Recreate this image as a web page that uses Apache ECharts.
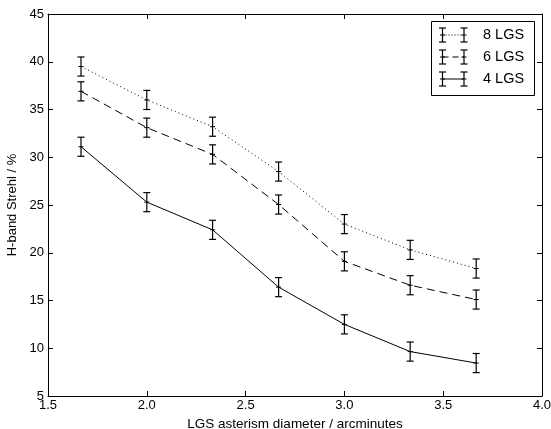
<!DOCTYPE html>
<html><head><meta charset="utf-8">
<script src="https://cdn.jsdelivr.net/npm/echarts@6/dist/echarts.min.js"></script>
<style>html,body{margin:0;padding:0;background:#fff}#c{width:551px;height:429px}</style>
</head><body><div id="c"></div>
<script>
const diameters = [1.667, 2.0, 2.333, 2.667, 3.0, 3.333, 3.667];
const strehl8 = [39.5, 36.0, 33.2, 28.5, 23.0, 20.3, 18.35];
const strehl6 = [36.9, 33.1, 30.3, 25.05, 19.1, 16.6, 15.1];
const strehl4 = [31.1, 25.3, 22.4, 16.4, 12.5, 9.65, 8.45];
const errors8 = [1.0, 1.0, 1.0, 1.0, 1.0, 1.0, 1.0];
const errors6 = [1.0, 1.0, 1.0, 1.0, 1.0, 1.0, 1.0];
const errors4 = [1.0, 1.0, 1.0, 1.0, 1.0, 1.0, 1.0];
const seriesNames = ['8 LGS', '6 LGS', '4 LGS'];
const xTicks = ['1.5','2.0','2.5','3.0','3.5','4.0'];

const FONT = 'Liberation Sans, Arial, sans-serif';
const chart = echarts.init(document.getElementById('c'), null, {renderer:'canvas'});

function errData(vals, errs){ return diameters.map((x,i)=>[x, vals[i]-errs[i], vals[i]+errs[i], vals[i]]); }
function errSeries(vals, errs){
  return {
    type:'custom', silent:true, z:5,
    data: errData(vals, errs),
    renderItem: function(params, api){
      const x = api.value(0);
      const lo = api.coord([x, api.value(1)]);
      const hi = api.coord([x, api.value(2)]);
      const md = api.coord([x, api.value(3)]);
      const w = 3.5;
      const st = {stroke:'#000', lineWidth:1.2};
      return {type:'group', children:[
        {type:'line', shape:{x1:lo[0], y1:lo[1], x2:hi[0], y2:hi[1]}, style:st},
        {type:'line', shape:{x1:lo[0]-w, y1:lo[1], x2:lo[0]+w, y2:lo[1]}, style:st},
        {type:'line', shape:{x1:hi[0]-w, y1:hi[1], x2:hi[0]+w, y2:hi[1]}, style:st},
        {type:'line', shape:{x1:md[0]-2.5, y1:md[1], x2:md[0]+2.5, y2:md[1]}, style:{stroke:'#000', lineWidth:1}}
      ]};
    }
  };
}
function lineSeries(name, vals, type){
  return {
    name:name, type:'line', symbol:'none', silent:true, z:4,
    data: diameters.map((x,i)=>[x, vals[i]]),
    lineStyle:{color:'#000', width:1, type:type}
  };
}

const axisCommon = {
  axisLine:{show:true, lineStyle:{color:'#000', width:1}},
  axisTick:{show:true, inside:true, length:5, lineStyle:{color:'#000'}},
  splitLine:{show:false}
};

// legend built from series names
const legendDash = [[1,2], [6,4], null];
const legendY = [35, 57, 79];
const legendChildren = [{type:'rect', shape:{x:431.5, y:21.5, width:103, height:74}, style:{fill:'#fff', stroke:'#000', lineWidth:1}, z:10}];
seriesNames.forEach((n,i)=>{
  const y = legendY[i];
  const st = {stroke:'#000', lineWidth:1.2};
  [442.5, 464].forEach(x=>{
    legendChildren.push({type:'line', shape:{x1:x, y1:y-7, x2:x, y2:y+7}, style:st, z:11});
    legendChildren.push({type:'line', shape:{x1:x-3.5, y1:y-7, x2:x+3.5, y2:y-7}, style:st, z:11});
    legendChildren.push({type:'line', shape:{x1:x-3.5, y1:y+7, x2:x+3.5, y2:y+7}, style:st, z:11});
    legendChildren.push({type:'line', shape:{x1:x-2.5, y1:y, x2:x+2.5, y2:y}, style:{stroke:'#000', lineWidth:1}, z:11});
  });
  legendChildren.push({type:'line', shape:{x1:442.5, y1:y, x2:464, y2:y}, style:{stroke:'#000', lineWidth:1, lineDash: legendDash[i]}, z:11});
  legendChildren.push({type:'text', x:483, y:y, style:{text:n, font:'14.5px '+FONT, fill:'#000', textVerticalAlign:'middle'}, z:11});
});

chart.setOption({
  backgroundColor:'#fff',
  animation:false,
  grid:{left:48, right:9, top:14, bottom:33, containLabel:false, outerBoundsMode:'none'},
  xAxis:[
    Object.assign({type:'value', min:1.5, max:4.0, interval:0.5, position:'bottom',
      name:'LGS asterism diameter / arcminutes', nameLocation:'middle', nameGap:21,
      nameTextStyle:{fontFamily:FONT, fontSize:13.5, color:'#000'},
      axisLabel:{fontFamily:FONT, fontSize:13, color:'#000', margin:3,
        formatter:(v)=>xTicks[Math.round((v-1.5)/0.5)]}}, axisCommon),
    Object.assign({type:'value', min:1.5, max:4.0, interval:0.5, position:'top', axisLabel:{show:false}}, axisCommon)
  ],
  yAxis:[
    Object.assign({type:'value', min:5, max:45, interval:5, position:'left',
      name:'H-band Strehl / %', nameLocation:'middle', nameGap:25,
      nameTextStyle:{fontFamily:FONT, fontSize:13, color:'#000'},
      axisLabel:{fontFamily:FONT, fontSize:13, color:'#000', margin:4}}, axisCommon),
    Object.assign({type:'value', min:5, max:45, interval:5, position:'right', axisLabel:{show:false}}, axisCommon)
  ],
  series:[
    lineSeries(seriesNames[0], strehl8, [1,3]),
    errSeries(strehl8, errors8),
    lineSeries(seriesNames[1], strehl6, [8,5]),
    errSeries(strehl6, errors6),
    lineSeries(seriesNames[2], strehl4, 'solid'),
    errSeries(strehl4, errors4)
  ],
  graphic: legendChildren
});
</script></body></html>
